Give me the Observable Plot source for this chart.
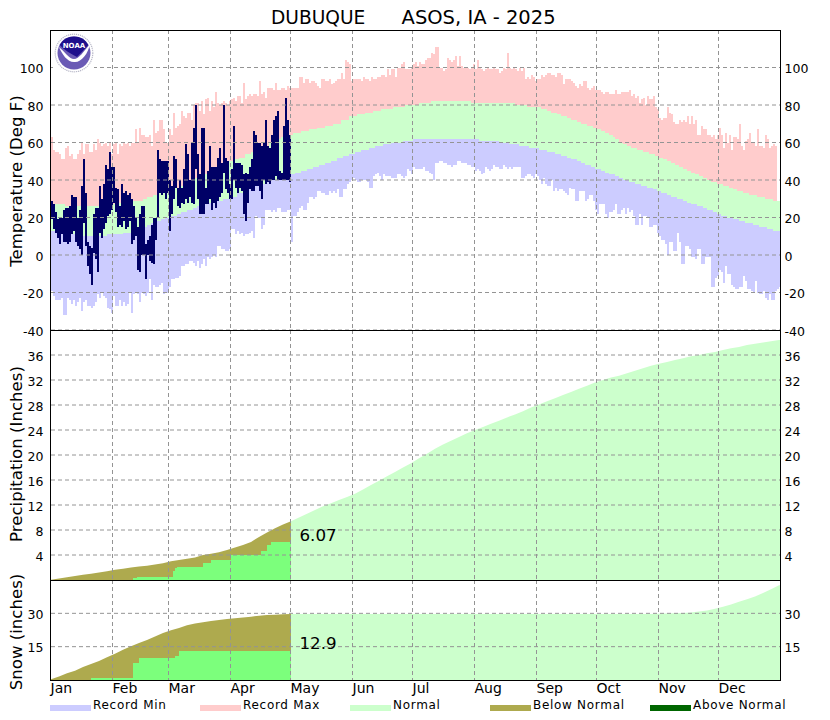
<!DOCTYPE html>
<html><head><meta charset="utf-8">
<script src="https://cdn.jsdelivr.net/npm/d3@7"></script>
<script src="https://cdn.jsdelivr.net/npm/@observablehq/plot@0.6"></script>
<style>
html,body{margin:0;padding:0;background:#fff;width:830px;height:720px;overflow:hidden;font-family:"DejaVu Sans",sans-serif;color:#000}
#chart{position:relative;width:830px;height:720px}
#chart>svg,#chart>div{position:absolute}
.ttl{white-space:pre;font-size:19px;left:271px;top:6px}
.ylab{font-size:16.6px;transform:translate(-50%,-50%) rotate(-90deg);white-space:nowrap;left:16px}
.leg{font-size:12px;letter-spacing:.7px;top:698px;white-space:nowrap}
.sw{height:6px;width:41px;top:705px}
</style></head><body><div id="chart"></div>
<script>
const monthNames=["Jan","Feb","Mar","Apr","May","Jun","Jul","Aug","Sep","Oct","Nov","Dec"];
const monthStarts=[0,31,59,90,120,151,181,212,243,273,304,334];
const tempTicks=[-40,-20,0,20,40,60,80,100];
const precipTicks=[4,8,12,16,20,24,28,32,36];
const snowTicks=[15,30];
const recordMax=[63,56,55,55,54,51,51,57,58,53,54,51,51,54,56,60,54,59,59,55,55,59,56,62,60,58,59,60,58,60,54,
59,60,54,59,58,60,59,60,58,60,60,67,60,68,64,64,63,63,64,58,72,65,66,72,72,67,60,60,
67,64,76,68,69,70,77,74,73,76,76,72,80,81,81,77,82,75,83,84,77,82,79,87,81,80,81,82,81,80,82,
83,84,82,85,85,81,92,83,85,86,85,86,86,85,93,86,87,84,89,89,89,88,92,88,88,89,89,88,90,89,
89,89,89,89,95,95,92,94,94,92,93,93,92,90,89,94,94,93,93,94,91,92,93,94,94,97,94,104,103,102,93,
94,94,94,94,93,95,94,94,93,95,94,94,95,95,96,96,95,99,96,99,99,95,100,100,102,103,99,99,99,100,
102,103,101,103,102,102,104,105,105,108,107,111,111,100,100,98,99,105,104,103,104,106,101,106,101,100,100,100,99,100,
102,99,104,100,99,98,99,100,99,99,100,99,99,97,98,100,99,108,100,99,100,99,98,100,98,100,94,95,94,96,95,
93,94,94,96,95,96,97,97,96,96,95,97,97,96,91,94,94,94,93,92,90,89,91,90,93,93,89,88,89,90,
88,88,88,87,86,87,87,86,86,86,88,86,86,87,87,87,87,88,85,86,84,85,81,83,84,80,85,83,83,85,79,
78,73,72,73,73,79,76,75,71,70,70,72,71,72,71,74,70,74,70,72,64,64,69,67,67,64,64,63,64,62,
64,68,64,57,65,60,64,56,63,63,62,70,58,56,61,62,65,60,60,58,67,58,58,57,64,62,57,58,59,58];
const recordMin=[-19,-22,-24,-24,-24,-23,-32,-32,-23,-24,-26,-24,-27,-25,-23,-30,-25,-24,-27,-27,-28,-27,-25,-21,-23,-20,-22,-23,-28,-29,-31,
-22,-27,-27,-24,-27,-25,-27,-26,-20,-31,-21,-20,-21,-25,-20,-21,-22,-20,-13,-24,-16,-17,-17,-16,-15,-21,-20,-20,
-17,-13,-13,-12,-12,-11,-6,-6,-5,-5,-3,-3,-4,-6,-3,-7,-5,-2,-6,-1,-2,-1,0,-1,5,5,3,3,2,2,3,
14,14,11,13,11,12,10,11,11,12,13,9,21,20,20,14,16,24,24,24,23,24,23,25,25,23,23,23,24,24,
7,21,21,23,25,26,24,24,28,31,31,30,31,34,34,33,33,32,32,34,33,34,33,35,31,31,35,35,38,39,40,
41,40,39,39,40,40,40,39,36,36,42,43,44,42,40,43,42,42,42,41,41,41,43,43,42,41,42,46,45,43,
47,46,46,46,46,47,45,45,44,43,40,49,49,50,50,49,49,48,48,47,48,48,50,50,49,49,49,48,48,47,47,
45,46,45,43,44,47,46,45,46,48,47,47,46,46,48,47,46,47,46,47,47,47,47,41,41,42,43,43,42,41,43,
42,40,38,41,38,37,37,40,34,36,34,35,35,34,33,32,36,35,35,29,29,34,34,34,29,30,32,32,29,24,
22,27,27,27,22,20,23,23,24,27,22,22,24,25,22,25,23,24,21,16,16,22,16,21,21,20,15,15,16,16,12,
10,8,8,6,0,7,7,2,2,12,7,-5,-5,5,5,3,-1,-1,-2,3,3,-5,-5,-1,-1,-1,-17,-17,-12,-11,
-8,-9,-15,-6,-10,-10,-16,-17,-18,-18,-17,-17,-11,-14,-18,-18,-19,-20,-14,-20,-21,-21,-19,-23,-24,-21,-24,-24,-19,-18,-17];
const normalHighSteps=[[0,27],[7,26],[26,27],[34,28],[41,29],[46,30],[48,31],[51,32],[54,33],[57,34],[60,35],[62,36],[64,37],[66,38],[68,39],[70,40],[72,41],[74,42],[76,43],[78,44],[80,45],[82,46],[84,47],[87,49],[89,50],[91,51],[94,52],[97,54],[100,55],[103,57],[106,58],[109,60],[112,62],[115,63],[118,64],[121,65],[125,66],[129,67],[133,68],[137,69],[141,70],[145,72],[149,74],[153,75],[157,76],[161,77],[165,78],[171,79],[177,80],[184,81],[190,82],[210,81],[232,80],[238,79],[245,78],[248,77],[250,76],[253,75],[255,74],[258,73],[260,72],[263,71],[265,70],[268,69],[271,68],[273,67],[275,66],[277,65],[279,64],[281,63],[282,62],[284,60],[286,59],[288,58],[290,57],[293,56],[296,55],[299,54],[302,53],[304,52],[306,51],[308,50],[310,49],[312,48],[314,47],[316,46],[318,45],[320,44],[322,43],[324,42],[326,41],[328,40],[330,39],[333,38],[336,37],[339,36],[341,35],[343,34],[346,33],[349,32],[353,31],[357,30],[361,29]];
const normalLowSteps=[[0,13],[5,12],[9,11],[13,10],[28,11],[36,12],[42,13],[44,14],[46,15],[48,16],[50,17],[53,18],[55,19],[57,20],[60,21],[63,22],[65,23],[68,24],[71,25],[73,26],[76,27],[79,28],[83,29],[86,30],[90,31],[93,33],[96,34],[98,35],[100,36],[102,37],[104,38],[107,39],[110,40],[113,41],[116,42],[119,43],[122,44],[125,45],[128,46],[131,47],[134,48],[137,49],[140,50],[143,52],[146,53],[149,54],[152,55],[155,56],[159,57],[162,58],[166,59],[170,60],[176,61],[181,62],[214,61],[224,60],[229,59],[234,58],[239,57],[244,56],[248,55],[252,54],[255,53],[258,52],[260,51],[263,50],[265,49],[267,48],[270,47],[272,46],[275,45],[277,44],[279,43],[282,42],[284,41],[286,40],[289,39],[292,38],[295,37],[298,36],[301,35],[303,34],[305,33],[308,32],[310,31],[313,30],[316,29],[318,28],[320,27],[323,26],[326,25],[328,24],[331,23],[333,22],[335,21],[338,20],[341,19],[344,18],[347,17],[351,16],[354,15],[358,14],[361,13]];
const obsHigh=[29,27,23,19,20,20,24,25,25,26,32,31,31,20,24,37,51,33,7,5,4,22,25,25,37,30,38,48,46,55,47,47,36,35,26,38,33,34,32,33,30,26,20,15,22,26,26,6,8,10,16,20,20,56,51,50,50,50,50,40,37,53,51,36,40,36,46,59,54,40,60,68,80,54,43,68,68,36,45,58,47,47,47,52,57,49,80,52,50,38,46,69,49,49,49,48,43,44,43,47,51,66,64,60,60,58,60,72,58,57,64,72,74,77,45,44,69,84,72,64];
const obsLow=[19,14,12,9,6,11,7,7,6,7,11,13,7,5,3,0,17,5,-6,-10,-16,1,-2,-9,12,9,14,17,21,22,24,28,23,15,16,15,18,14,15,18,6,8,10,-8,-9,0,0,-13,0,-3,-4,-5,8,20,33,32,33,30,33,13,22,30,36,26,25,28,27,30,28,31,28,27,46,30,22,22,22,27,27,30,24,28,25,29,31,33,44,35,33,30,30,40,36,33,36,34,22,18,28,35,34,34,37,37,34,30,40,38,39,38,40,40,42,40,40,40,40,40,40,39];
const curveDays=[...d3.range(0,365,4),365];
const precipNormal=[.05,.25,.45,.65,.85,1,1.2,1.4,1.65,1.8,2,2.15,2.3,2.5,2.7,3,3.2,3.4,3.6,4,4.2,4.45,4.8,5.2,5.6,6.1,6.9,7.6,8.3,8.9,9.4,10,10.6,11.2,11.8,12.3,12.8,13.3,13.8,14.5,15.2,15.9,16.6,17.3,18,18.7,19.5,20.2,21,21.7,22.3,22.9,23.5,24,24.5,25,25.5,26,26.5,27,27.6,28.1,28.6,29.1,29.6,30.1,30.6,31.1,31.6,32,32.4,32.7,33.1,33.5,33.9,34.3,34.6,34.9,35.2,35.5,35.8,36,36.3,36.5,36.8,37.1,37.3,37.6,37.8,38,38.2,38.4,38.4];
const snowNormal=[.3,1.6,3,4.2,5.8,7.2,8.6,10.2,11.8,13.6,15.2,16.6,18,19.6,21.2,22.4,23.4,24.6,25.4,26,26.6,27,27.4,27.8,28.1,28.5,28.9,29.2,29.4,29.6,29.7,29.7,29.7,29.7,29.7,29.7,29.7,29.7,29.7,29.7,29.7,29.7,29.7,29.7,29.7,29.7,29.7,29.7,29.7,29.7,29.7,29.7,29.7,29.7,29.7,29.7,29.7,29.7,29.7,29.7,29.7,29.7,29.7,29.7,29.7,29.7,29.7,29.7,29.7,29.7,29.7,29.7,29.7,29.7,29.7,29.7,29.8,29.9,30,30.1,30.4,30.8,31.3,32.1,33,34,35.2,36.3,37.6,39.2,40.8,42.6,42.8];
const precipObsSteps=[[41,.3],[43,.53],[61,1.39],[62,1.92],[63,2.13],[76,2.77],[80,3.25],[90,4.05],[105,4.7],[108,5.65],[110,6.07]];
const snowObsSteps=[[20,1],[41,7.6],[44,10],[62,11],[64,12.9]];
const obsEnd=120,yearDays=365;
const precipTotal=6.07,snowTotal="12.9";

const C={min:"#ccccff",max:"#ffcccc",normal:"#ccffcc",below:"#aeaa4e",above:"#006600",obsWet:"#7cff7c",obs:"#000066",grid:"#949494"};
const stepValue=(steps,d)=>{let v=steps[0][1];for(const s of steps)if(s[0]<=d)v=s[1];return v;};
const segs=(steps,end)=>steps.map((s,i)=>({x1:s[0],x2:i+1<steps.length?steps[i+1][0]:end,v:s[1]}));
const days=d3.range(yearDays).map(d=>({d,x2:d+1,max:recordMax[d],min:recordMin[d],lo:stepValue(normalLowSteps,d),hi:stepValue(normalHighSteps,d)}));
const obsDays=obsHigh.map((h,d)=>({d,x2:d+1,h,l:obsLow[d]}));
const curveRows=vals=>vals.map((v,i)=>({d:curveDays[i],v}));
const crisp={shapeRendering:"crispEdges"};
const xScale={domain:[0,yearDays],range:[51,781],axis:null};
const base={width:830,marginLeft:51,marginRight:49,x:xScale,style:{background:"transparent",overflow:"visible",position:"absolute",fontFamily:"'DejaVu Sans',sans-serif"}};
const decorate=(ticks)=>[
  Plot.gridY(ticks,{stroke:C.grid,strokeOpacity:1,strokeDasharray:"4 3",dy:-.5}),
  Plot.gridX(monthStarts,{stroke:C.grid,strokeOpacity:1,strokeDasharray:"4 3",dx:-1}),
  Plot.axisY({anchor:"left",ticks,tickSize:0,tickPadding:8,label:null,fontSize:12.5,dy:1,tickFormat:d=>String(d)}),
  Plot.axisY({anchor:"right",ticks,tickSize:0,tickPadding:3,label:null,fontSize:12.5,dy:1,tickFormat:d=>String(d)}),
];
const frame=()=>Plot.frame({stroke:"#000",dx:-1});
const temp=Plot.plot({...base,height:340,marginTop:30,marginBottom:10,y:{domain:[-40,120],axis:null},marks:[
  Plot.rectY(days,{x1:"d",x2:"x2",y1:"min",y2:"max",fill:C.max,...crisp}),
  Plot.rectY(days,{x1:"d",x2:"x2",y1:"lo",y2:"hi",fill:C.normal,...crisp}),
  Plot.rectY(days,{x1:"d",x2:"x2",y1:"min",y2:"lo",fill:C.min,...crisp}),
  Plot.rectY(obsDays,{x1:"d",x2:"x2",y1:"l",y2:"h",fill:C.obs,...crisp}),
  ...decorate(tempTicks),
  frame()
]});
temp.style.top="0px";
const panelAreas=(vals,wet)=>{const rows=curveRows(vals);return [
  Plot.areaY(rows.filter(r=>r.d<=obsEnd),{x:"d",y1:0,y2:"v",fill:C.below}),
  Plot.areaY(rows.filter(r=>r.d>=obsEnd),{x:"d",y1:0,y2:"v",fill:C.normal}),
  Plot.rectY(segs(wet,obsEnd),{x1:"x1",x2:"x2",y1:0,y2:"v",fill:C.obsWet,...crisp})
];};
const precip=Plot.plot({...base,height:270,marginTop:10,marginBottom:10,y:{domain:[0,40],axis:null},marks:[
  ...panelAreas(precipNormal,precipObsSteps),
  ...decorate(precipTicks),
  Plot.text([{d:obsEnd+4,v:precipTotal+1.15}],{x:"d",y:"v",text:()=>precipTotal.toFixed(2),textAnchor:"start",fontSize:16.7}),
  frame()
]});
precip.style.top="320px";
const snow=Plot.plot({...base,height:150,marginTop:10,marginBottom:40,y:{domain:[0,45],axis:null},marks:[
  ...panelAreas(snowNormal,snowObsSteps),
  ...decorate(snowTicks),
  Plot.text([{d:obsEnd+4,v:+snowTotal+3.8}],{x:"d",y:"v",text:()=>snowTotal,textAnchor:"start",fontSize:16.7}),
  Plot.axisX({anchor:"bottom",ticks:monthStarts,tickSize:0,tickPadding:3,label:null,fontSize:14,textAnchor:"start",tickFormat:d=>monthNames[monthStarts.indexOf(d)],dx:-1}),
  frame()
]});
snow.style.top="570px";
const root=document.getElementById("chart");
root.append(temp,precip,snow);
const div=(cls,txt,css)=>{const e=document.createElement("div");e.className=cls;e.textContent=txt;Object.assign(e.style,css||{});root.append(e);return e;};
const ttl=div("ttl","");
ttl.innerHTML='<span style="font-size:18.6px">DUBUQUE</span>      <span style="font-size:19.5px">ASOS, IA - 2025</span>';
div("ylab","Temperature (Deg F)",{top:"181px"});
div("ylab","Precipitation (Inches)",{top:"454px"});
div("ylab","Snow (inches)",{top:"632px"});
const legend=[["Record Min",C.min,50,93],["Record Max",C.max,200,243],["Normal",C.normal,350,393],["Below Normal",C.below,490,533],["Above Normal",C.above,650,693]];
for(const [t,c,sx,tx] of legend){
  div("sw","",{left:sx+"px",background:c});
  div("leg",t,{left:tx+"px"});
}
const logo=document.createElement("div");
logo.style.cssText="left:53px;top:32px;width:41px;height:41px;background:#fff";
logo.innerHTML=`<svg width="41" height="41" viewBox="0 0 41 41">
<circle cx="21" cy="21" r="18.8" fill="#fff" stroke="#b9b9c9" stroke-width="1.2" stroke-dasharray="1.2 .8"/>
<circle cx="21" cy="21" r="16.5" fill="#6a5ab5"/>
<path d="M6.6 13A16.5 16.5 0 0 1 35.4 13C32 17 28 21 24 25C18 22 11 18 6.6 13Z" fill="#1e0f8c"/>
<path d="M6 15C11 19 16 27 21 27C26 27 31 19 37 12C35 22 28 31 21 30C14 30 9 22 6 15Z" fill="#fff"/>
<text x="21" y="16" text-anchor="middle" font-size="7" font-weight="bold" fill="#fff" font-family="DejaVu Sans">NOAA</text></svg>`;
root.append(logo);
</script></body></html>
